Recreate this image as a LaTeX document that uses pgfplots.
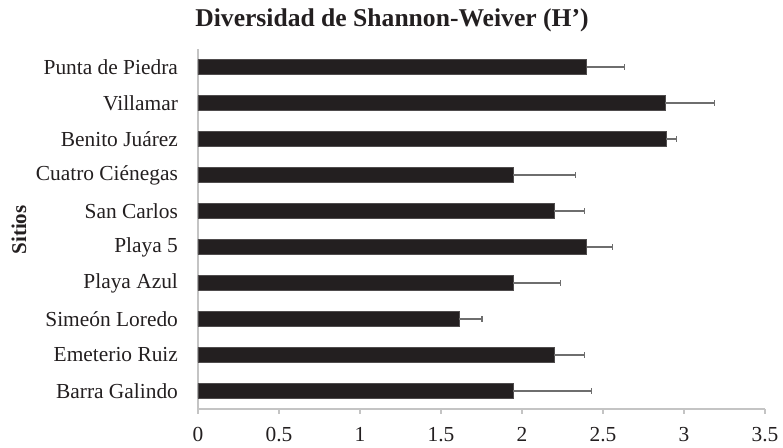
\documentclass[border=0pt]{standalone}
\usepackage{fontspec}
\setmainfont{Liberation Serif}
\usepackage{pgfplots}
\usepackage{pgfplotstable}
\pgfplotsset{compat=1.18}
\definecolor{barc}{HTML}{231F20}
\definecolor{axc}{HTML}{C4C4C4}
\definecolor{errc}{HTML}{6E6E6E}
\pgfplotstableread{
i v e
0 1.945 0.482
1 2.200 0.184
2 1.610 0.143
3 1.945 0.295
4 2.400 0.160
5 2.200 0.184
6 1.945 0.385
7 2.890 0.065
8 2.885 0.305
9 2.400 0.232
}\datatable
\begin{document}
\begin{tikzpicture}
\path[use as bounding box] (-99pt,-19.5pt) rectangle (292.5pt,204.5pt);
\begin{axis}[
  at={(0,0)}, anchor=south west,
  scale only axis, width=283.5pt, height=180pt,
  xbar, bar width=7.5pt,
  xmin=0, xmax=3.5, ymin=-0.5, ymax=9.5,
  xtick={0,0.5,1,1.5,2,2.5,3,3.5},
  xticklabels={0,0.5,1,1.5,2,2.5,3,3.5},
  ytick={0,...,9},
  yticklabels={Barra Galindo, Emeterio Ruiz, Simeón Loredo, Playa Azul, Playa 5, San Carlos, Cuatro Ciénegas, Benito Juárez, Villamar, Punta de Piedra},
  axis x line*=bottom, axis y line*=left,
  axis line style={draw=axc, line width=0.7pt, -},
  xtick pos=bottom, tick align=outside,
  x tick style={draw=axc, line width=0.7pt},
  major tick length=2.5pt,
  y tick style={draw=none},
  ticklabel style={font=\fontsize{10.7}{12}\selectfont, text=barc},
  x tick label style={yshift=-3pt},
  y tick label style={xshift=-4pt},
  /pgf/number format/assume math mode=true,
]
\addplot[draw=barc!80, line width=0.3pt, fill=barc,
  error bars/.cd, x dir=plus, x explicit,
  error bar style={errc, line width=0.6pt},
  error mark options={errc, mark size=1.4pt, line width=0.6pt, rotate=90}]
  table[x=v, y=i, x error=e] {\datatable};
\end{axis}
\node[font=\bfseries\fontsize{12.8}{14}\selectfont, text=barc] at (97pt,194.5pt) {Diversidad de Shannon-Weiver (H’)};
\node[rotate=90, font=\bfseries\fontsize{10.5}{12}\selectfont, text=barc] at (-89.5pt,89.5pt) {Sitios};
\end{tikzpicture}
\end{document}
